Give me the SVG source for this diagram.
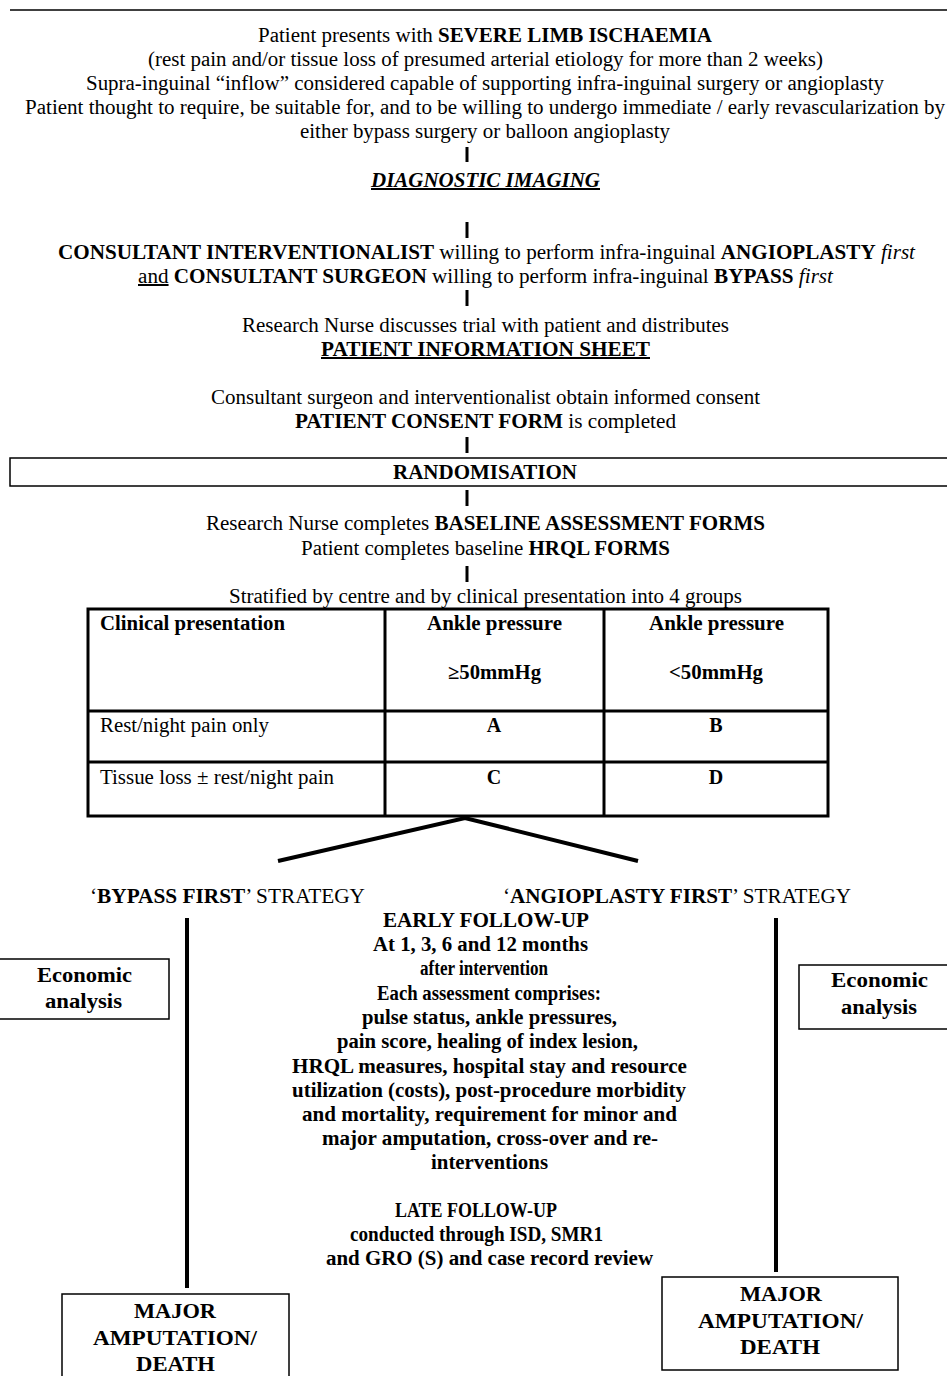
<svg xmlns="http://www.w3.org/2000/svg" width="947" height="1376" viewBox="0 0 947 1376">
<style>
text{font-family:"Liberation Serif","Times New Roman",serif;font-size:20px;fill:#000}
.b{font-weight:bold}
.i{font-style:italic}
.u{text-decoration:underline}
.c{text-anchor:middle}
.box{fill:#fff;stroke:#000;stroke-width:1.5}
.bar{stroke:#000;stroke-width:3}
.thick{stroke:#000;stroke-width:4;fill:none}
.tbl{fill:none;stroke:#000;stroke-width:3}
</style>
<rect width="947" height="1376" fill="#fff"/>
<g id="connectors">
<line x1="10" y1="10" x2="947" y2="10" stroke="#000" stroke-width="1.5"/>
<line class="bar" x1="467" y1="147" x2="467" y2="162"/>
<line class="bar" x1="467" y1="222" x2="467" y2="238"/>
<line class="bar" x1="467" y1="290" x2="467" y2="306"/>
<line class="bar" x1="467" y1="437" x2="467" y2="453"/>
<line class="bar" x1="467" y1="490" x2="467" y2="506"/>
<line class="bar" x1="467" y1="566" x2="467" y2="582"/>
<polyline class="thick" points="278,861 465,818 638,861"/>
<line class="thick" x1="187" y1="918" x2="187" y2="1288"/>
<line class="thick" x1="776" y1="918" x2="776" y2="1272"/>
</g>
<g id="intro">
<text x="258" y="42" textLength="454" lengthAdjust="spacingAndGlyphs">Patient presents with <tspan class="b">SEVERE LIMB ISCHAEMIA</tspan></text>
<text x="148" y="66" textLength="675" lengthAdjust="spacingAndGlyphs">(rest pain and/or tissue loss of presumed arterial etiology for more than 2 weeks)</text>
<text x="86" y="90" textLength="798" lengthAdjust="spacingAndGlyphs">Supra-inguinal “inflow” considered capable of supporting infra-inguinal surgery or angioplasty</text>
<text x="25" y="114" textLength="920" lengthAdjust="spacingAndGlyphs">Patient thought to require, be suitable for, and to be willing to undergo immediate / early revascularization by</text>
<text x="300" y="138" textLength="370" lengthAdjust="spacingAndGlyphs">either bypass surgery or balloon angioplasty</text>
</g>
<g id="imaging">
<text x="371" y="187" textLength="229" lengthAdjust="spacingAndGlyphs" class="b i u">DIAGNOSTIC IMAGING</text>
</g>
<g id="consultants">
<text x="58" y="259" textLength="857" lengthAdjust="spacingAndGlyphs"><tspan class="b">CONSULTANT INTERVENTIONALIST</tspan> willing to perform infra-inguinal <tspan class="b">ANGIOPLASTY</tspan> <tspan class="i">first</tspan></text>
<text x="138" y="283" textLength="695" lengthAdjust="spacingAndGlyphs"><tspan class="u">and</tspan> <tspan class="b">CONSULTANT SURGEON</tspan> willing to perform infra-inguinal <tspan class="b">BYPASS</tspan> <tspan class="i">first</tspan></text>
</g>
<g id="info">
<text x="242" y="332" textLength="487" lengthAdjust="spacingAndGlyphs">Research Nurse discusses trial with patient and distributes</text>
<text x="321" y="356" textLength="329" lengthAdjust="spacingAndGlyphs" class="b u">PATIENT INFORMATION SHEET</text>
</g>
<g id="consent">
<text x="211" y="404" textLength="549" lengthAdjust="spacingAndGlyphs">Consultant surgeon and interventionalist obtain informed consent</text>
<text x="295" y="428" textLength="381" lengthAdjust="spacingAndGlyphs"><tspan class="b">PATIENT CONSENT FORM</tspan> is completed</text>
</g>
<g id="randomisation">
<rect class="box" x="10" y="458" width="945" height="28"/>
<text x="393" y="479" textLength="184" lengthAdjust="spacingAndGlyphs" class="b">RANDOMISATION</text>
</g>
<g id="baseline">
<text x="206" y="530" textLength="559" lengthAdjust="spacingAndGlyphs">Research Nurse completes <tspan class="b">BASELINE ASSESSMENT FORMS</tspan></text>
<text x="301" y="555" textLength="369" lengthAdjust="spacingAndGlyphs">Patient completes baseline <tspan class="b">HRQL FORMS</tspan></text>
</g>
<g id="stratification">
<text x="229" y="603" textLength="513" lengthAdjust="spacingAndGlyphs">Stratified by centre and by clinical presentation into 4 groups</text>
<rect class="tbl" x="88" y="609" width="740" height="207"/>
<line class="tbl" x1="385" y1="609" x2="385" y2="816"/>
<line class="tbl" x1="604" y1="609" x2="604" y2="816"/>
<line class="tbl" x1="88" y1="711" x2="828" y2="711"/>
<line class="tbl" x1="88" y1="762" x2="828" y2="762"/>
<text x="100" y="630" textLength="185" lengthAdjust="spacingAndGlyphs" class="b">Clinical presentation</text>
<text x="427" y="630" textLength="135" lengthAdjust="spacingAndGlyphs" class="b">Ankle pressure</text>
<text x="649" y="630" textLength="135" lengthAdjust="spacingAndGlyphs" class="b">Ankle pressure</text>
<text x="448" y="679" textLength="93" lengthAdjust="spacingAndGlyphs" class="b">≥50mmHg</text>
<text x="669" y="679" textLength="94" lengthAdjust="spacingAndGlyphs" class="b">&lt;50mmHg</text>
<text x="100" y="732" textLength="169" lengthAdjust="spacingAndGlyphs">Rest/night pain only</text>
<text x="494" y="732" class="b c">A</text>
<text x="716" y="732" class="b c">B</text>
<text x="100" y="784" textLength="234" lengthAdjust="spacingAndGlyphs">Tissue loss ± rest/night pain</text>
<text x="494" y="784" class="b c">C</text>
<text x="716" y="784" class="b c">D</text>
</g>
<g id="bypass-strategy">
<text x="90" y="903" textLength="275" lengthAdjust="spacingAndGlyphs">‘<tspan class="b">BYPASS FIRST</tspan>’ STRATEGY</text>
</g>
<g id="angioplasty-strategy">
<text x="503" y="903" textLength="348" lengthAdjust="spacingAndGlyphs">‘<tspan class="b">ANGIOPLASTY FIRST</tspan>’ STRATEGY</text>
</g>
<g id="followup" class="b">
<text x="383" y="927" textLength="206" lengthAdjust="spacingAndGlyphs" class="b">EARLY FOLLOW-UP</text>
<text x="373" y="951" textLength="215" lengthAdjust="spacingAndGlyphs" class="b">At 1, 3, 6 and 12 months</text>
<text x="420" y="975" textLength="128" lengthAdjust="spacingAndGlyphs" class="b">after intervention</text>
<text x="377" y="1000" textLength="224" lengthAdjust="spacingAndGlyphs" class="b">Each assessment comprises:</text>
<text x="362" y="1024" textLength="255" lengthAdjust="spacingAndGlyphs" class="b">pulse status, ankle pressures,</text>
<text x="337" y="1048" textLength="301" lengthAdjust="spacingAndGlyphs" class="b">pain score, healing of index lesion,</text>
<text x="292" y="1073" textLength="395" lengthAdjust="spacingAndGlyphs" class="b">HRQL measures, hospital stay and resource</text>
<text x="292" y="1097" textLength="394" lengthAdjust="spacingAndGlyphs" class="b">utilization (costs), post-procedure morbidity</text>
<text x="302" y="1121" textLength="375" lengthAdjust="spacingAndGlyphs" class="b">and mortality, requirement for minor and</text>
<text x="322" y="1145" textLength="336" lengthAdjust="spacingAndGlyphs" class="b">major amputation, cross-over and re-</text>
<text x="431" y="1169" textLength="117" lengthAdjust="spacingAndGlyphs" class="b">interventions</text>
<text x="395" y="1217" textLength="162" lengthAdjust="spacingAndGlyphs" class="b">LATE FOLLOW-UP</text>
<text x="350" y="1241" textLength="253" lengthAdjust="spacingAndGlyphs" class="b">conducted through ISD, SMR1</text>
<text x="326" y="1265" textLength="327" lengthAdjust="spacingAndGlyphs" class="b">and GRO (S) and case record review</text>
</g>
<g id="economic-left">
<rect class="box" x="-2" y="959" width="171" height="60"/>
<text x="37" y="982" textLength="95" lengthAdjust="spacingAndGlyphs" class="b">Economic</text>
<text x="45" y="1008" textLength="77" lengthAdjust="spacingAndGlyphs" class="b">analysis</text>
</g>
<g id="economic-right">
<rect class="box" x="799" y="965" width="160" height="64"/>
<text x="831" y="987" textLength="97" lengthAdjust="spacingAndGlyphs" class="b">Economic</text>
<text x="841" y="1014" textLength="76" lengthAdjust="spacingAndGlyphs" class="b">analysis</text>
</g>
<g id="outcome-left">
<rect class="box" x="62" y="1294" width="227" height="90"/>
<text x="134" y="1318" textLength="82" lengthAdjust="spacingAndGlyphs" class="b">MAJOR</text>
<text x="93" y="1345" textLength="164" lengthAdjust="spacingAndGlyphs" class="b">AMPUTATION/</text>
<text x="136" y="1371" textLength="79" lengthAdjust="spacingAndGlyphs" class="b">DEATH</text>
</g>
<g id="outcome-right">
<rect class="box" x="662" y="1277" width="236" height="93"/>
<text x="740" y="1301" textLength="82" lengthAdjust="spacingAndGlyphs" class="b">MAJOR</text>
<text x="698" y="1328" textLength="165" lengthAdjust="spacingAndGlyphs" class="b">AMPUTATION/</text>
<text x="740" y="1354" textLength="80" lengthAdjust="spacingAndGlyphs" class="b">DEATH</text>
</g>
</svg>
